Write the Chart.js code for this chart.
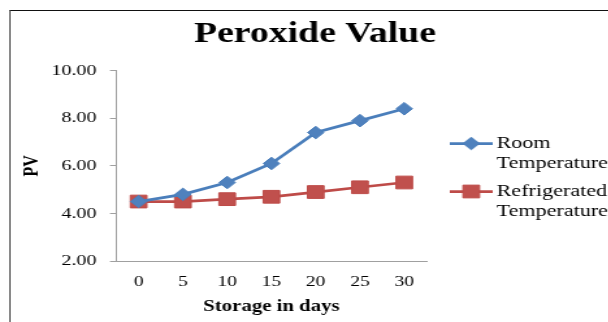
<!DOCTYPE html>
<html>
<head>
<meta charset="utf-8">
<script src="https://cdn.jsdelivr.net/npm/chart.js@4/dist/chart.umd.min.js"></script>
<style>
  html, body { margin: 0; padding: 0; background: #fff; }
  #page { position: relative; width: 608px; height: 322px; overflow: hidden; background: #fff; }
  /* frame around the chart object */
  #frame { position: absolute; left: 9px; top: 10px; width: 620px; height: 330px;
           border-top: 1px solid #111; border-left: 2px solid #8a8a8a; }
  /* the chart is laid out narrow and widened, like a stretched figure */
  #wrap { position: absolute; left: 0; top: 0; width: 468px; height: 322px;
          transform: scaleX(1.3); transform-origin: 0 0; }
</style>
</head>
<body>
<div id="page">
  <div id="frame"></div>
  <div id="wrap"><canvas id="c"></canvas></div>
</div>
<script>
// Storage time (days) and peroxide value readings
const storageDays = ['0', '5', '10', '15', '20', '25', '30'];
const roomTemperature = [4.5, 4.8, 5.3, 6.1, 7.4, 7.9, 8.4];
const refrigeratedTemperature = [4.5, 4.5, 4.6, 4.7, 4.9, 5.1, 5.3];
const pvTicks = [2, 4, 6, 8, 10];
const seriesNames = [['Room', 'Temperature'], ['Refrigerated', 'Temperature']];

const SERIF = "'Liberation Serif', 'Times New Roman', serif";
const BLUE = '#4A7EBB', BLUE_FILL = '#4F81BD';
const RED = '#BE4B48', RED_FILL = '#C0504D';
const AXIS = '#a0a0a0';

// Chart heading
const headingPlugin = {
  id: 'heading',
  afterDraw(chart) {
    const ctx = chart.ctx;
    ctx.save();
    ctx.fillStyle = '#000';
    ctx.font = 'bold 29px ' + SERIF;
    ctx.textAlign = 'center';
    ctx.textBaseline = 'alphabetic';
    ctx.fillText('Peroxide Value', 242.3, 41.7);
    ctx.restore();
  }
};

// Legend to the right of the plot with two-line labels
const sideLegendPlugin = {
  id: 'sideLegend',
  afterDraw(chart) {
    const ctx = chart.ctx;
    const rows = [143.5, 191.5];
    const x0 = 346, x1 = 379, tx = 382;
    chart.data.datasets.forEach((ds, i) => {
      const y = rows[i];
      ctx.save();
      ctx.strokeStyle = ds.borderColor;
      ctx.lineWidth = ds.borderWidth;
      ctx.beginPath();
      ctx.moveTo(x0, y);
      ctx.lineTo(x1, y);
      ctx.stroke();
      ctx.fillStyle = ds.pointBackgroundColor;
      ctx.strokeStyle = ds.pointBorderColor;
      ctx.lineWidth = 1;
      Chart.helpers.drawPoint(ctx, {
        pointStyle: ds.pointStyle,
        radius: ds.pointRadius,
        borderWidth: 1,
        rotation: 0
      }, (x0 + x1) / 2, y);
      ctx.fillStyle = '#000';
      ctx.font = '17px ' + SERIF;
      ctx.textAlign = 'left';
      ctx.textBaseline = 'middle';
      seriesNames[i].forEach((line, k) => ctx.fillText(line, tx, y + k * 20));
      ctx.restore();
    });
  }
};

new Chart(document.getElementById('c'), {
  type: 'line',
  data: {
    labels: storageDays,
    datasets: [
      {
        label: 'Room Temperature',
        data: roomTemperature,
        borderColor: BLUE,
        borderWidth: 2.75,
        pointStyle: 'rectRot',
        pointRadius: 6.3,
        pointBackgroundColor: BLUE_FILL,
        pointBorderColor: BLUE,
        pointBorderWidth: 1,
        tension: 0
      },
      {
        label: 'Refrigerated Temperature',
        data: refrigeratedTemperature,
        borderColor: RED,
        borderWidth: 2.75,
        pointStyle: 'rect',
        pointRadius: 9,
        pointBackgroundColor: RED_FILL,
        pointBorderColor: RED,
        pointBorderWidth: 1,
        tension: 0
      }
    ]
  },
  options: {
    responsive: true,
    maintainAspectRatio: false,
    animation: false,
    events: [],
    layout: { padding: { left: 0, right: 140, top: 70.7, bottom: 0 } },
    plugins: {
      legend: { display: false },
      title: { display: false },
      tooltip: { enabled: false }
    },
    scales: {
      x: {
        type: 'category',
        offset: true,
        grid: { drawOnChartArea: false, drawTicks: false, color: AXIS },
        border: { display: true, color: AXIS, width: 1 },
        ticks: { color: '#000', font: { family: SERIF, size: 15 }, padding: 12, maxRotation: 0 },
        title: {
          display: true,
          text: 'Storage in days',
          color: '#000',
          font: { family: SERIF, size: 16, weight: 'bold' },
          padding: { top: 0, bottom: 6 }
        },
        afterFit(scale) { scale.height = 61; }
      },
      y: {
        min: 2,
        max: 10,
        afterBuildTicks(scale) { scale.ticks = pvTicks.map(v => ({ value: v })); },
        grid: { drawOnChartArea: false, drawTicks: true, tickLength: 5, color: AXIS },
        border: { display: true, color: AXIS, width: 1 },
        ticks: {
          color: '#000',
          font: { family: SERIF, size: 15.5 },
          padding: 10.3,
          callback: v => Number(v).toFixed(2)
        },
        title: {
          display: true,
          text: 'PV',
          color: '#000',
          font: { family: SERIF, size: 16, weight: 'bold' },
          padding: { top: 15, bottom: 0 }
        },
        afterFit(scale) { scale.width = 89.6; }
      }
    }
  },
  plugins: [headingPlugin, sideLegendPlugin]
});
</script>
</body>
</html>
